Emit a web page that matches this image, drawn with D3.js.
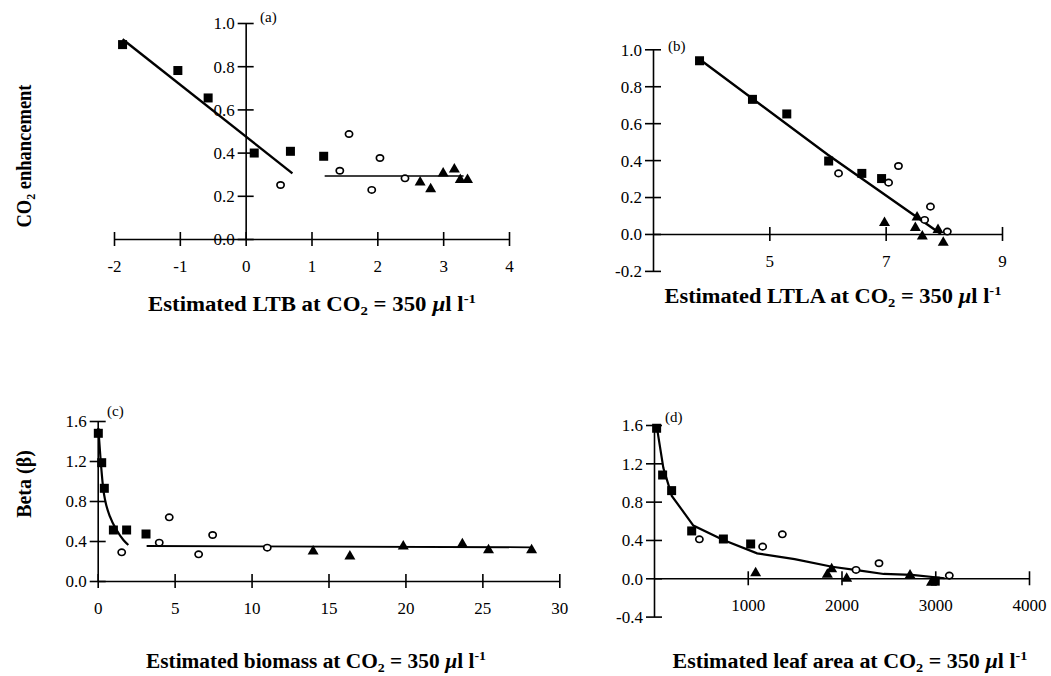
<!DOCTYPE html>
<html>
<head>
<meta charset="utf-8">
<script src="https://cdn.jsdelivr.net/npm/d3@7"></script>
<style>
    body { margin: 0; background: #fff; }
    svg text { font-family: "Liberation Serif", "Times New Roman", serif; }
    .domain, .tick line { stroke: #000; stroke-width: 1.6; }
    .title { font-size: 20px; font-weight: bold; }
    .tag { font-size: 15px; }
</style>
</head>
<body>
<div id="chart"></div>
<script>
// (a) CO2 enhancement vs estimated LTB
var ltbSquares = [[-1.87, 0.90], [-1.03, 0.78], [-0.57, 0.653], [0.13, 0.398], [0.68, 0.406], [1.185, 0.383]];
var ltbCircles = [[0.53, 0.25], [1.43, 0.316], [1.57, 0.486], [1.915, 0.227], [2.04, 0.375], [2.42, 0.281]];
var ltbTriangles = [[2.65, 0.268], [2.81, 0.237], [3.0, 0.31], [3.17, 0.329], [3.26, 0.28], [3.37, 0.28]];
var ltbFitSteep = [[-1.87, 0.925], [0.71, 0.304]];
var ltbFitFlat = [[1.2, 0.292], [3.31, 0.292]];

// (b) CO2 enhancement vs estimated LTLA
var ltlaSquares = [[3.80, 0.938], [4.71, 0.729], [5.30, 0.65], [6.02, 0.395], [6.59, 0.328], [6.93, 0.30]];
var ltlaCircles = [[6.19, 0.328], [7.05, 0.278], [7.22, 0.368], [7.77, 0.148], [7.67, 0.076], [8.06, 0.013]];
var ltlaTriangles = [[6.98, 0.067], [7.51, 0.04], [7.54, 0.097], [7.63, -0.005], [7.90, 0.03], [7.99, -0.04]];
var ltlaFit = [[3.80, 0.946], [6.0, 0.43], [7.95, 0.0]];

// (c) beta vs estimated biomass
var bioSquares = [[0.04, 1.477], [0.26, 1.183], [0.43, 0.927], [1.02, 0.51], [1.88, 0.51], [3.14, 0.47]];
var bioCircles = [[1.56, 0.287], [4.0, 0.383], [4.65, 0.637], [6.56, 0.267], [7.47, 0.46], [11.02, 0.333]];
var bioTriangles = [[14.0, 0.31], [16.39, 0.26], [19.86, 0.36], [23.7, 0.383], [25.4, 0.323], [28.2, 0.323]];
var bioFitCurve = [[0.04, 1.53], [0.19, 1.21], [0.37, 0.91], [0.48, 0.81], [0.80, 0.643], [1.23, 0.51], [1.67, 0.41], [1.99, 0.36]];
var bioFitFlat = [[3.18, 0.35], [28.2, 0.337]];

// (d) beta vs estimated leaf area
var leafSquares = [[28, 1.566], [92, 1.078], [188, 0.915], [402, 0.494], [740, 0.41], [1031, 0.358], [3000, -0.03]];
var leafCircles = [[484, 0.407], [1159, 0.33], [1369, 0.459], [2155, 0.087], [2400, 0.157], [3150, 0.028]];
var leafTriangles = [[1084, 0.069], [1849, 0.052], [1895, 0.11], [2055, 0.01], [2731, 0.045], [2960, -0.03]];
var leafFit = [[30, 1.58], [100, 1.15], [190, 0.86], [420, 0.55], [740, 0.40], [1100, 0.26], [1500, 0.20],
               [1900, 0.12], [2200, 0.08], [2450, 0.045], [2750, 0.035], [3100, 0.0]];

var ltbXTicks = [-2, -1, 0, 1, 2, 3, 4];
var ltbYTicks = [0, 0.2, 0.4, 0.6, 0.8, 1.0];
var ltlaXTicks = [5, 7, 9];
var ltlaYTicks = [-0.2, 0, 0.2, 0.4, 0.6, 0.8, 1.0];
var bioXTicks = [0, 5, 10, 15, 20, 25, 30];
var bioYTicks = [0, 0.4, 0.8, 1.2, 1.6];
var leafXTicks = [1000, 2000, 3000, 4000];
var leafYTicks = [-0.4, 0, 0.4, 0.8, 1.2, 1.6];

var serif = '"Liberation Serif", "Times New Roman", serif';

var svg = d3.select('#chart').append('svg')
    .attr('width', 1051)
    .attr('height', 676);

function drawPanel(p) {
    var x = d3.scaleLinear().domain(p.xDomain).range(p.xRange);
    var y = d3.scaleLinear().domain(p.yDomain).range(p.yRange);
    var g = svg.append('g');

    // axes cross at the origin of the panel
    var xAxis = g.append('g')
        .attr('transform', `translate(0,${y(0)})`)
        .call(d3.axisBottom(x).tickValues(p.xTicks).tickSizeOuter(0).tickSizeInner(0)
            .tickFormat(d => String(d)));
    xAxis.selectAll('.tick line').attr('y1', -7).attr('y2', 7);
    xAxis.selectAll('.tick text').attr('y', 33).attr('dy', 0);

    var yAxis = g.append('g')
        .attr('transform', `translate(${x(p.xDomain[0] < 0 ? 0 : p.xDomain[0])},0)`)
        .call(d3.axisLeft(y).tickValues(p.yTicks).tickSizeOuter(0).tickSizeInner(0)
            .tickFormat(d3.format('.1f')));
    yAxis.selectAll('.tick line').attr('x1', -8).attr('x2', 8);
    yAxis.selectAll('.tick text').attr('x', -11).attr('dy', '0.35em')
        .text(d => d3.format('.1f')(d).replace('\u2212', '-'));

    [xAxis, yAxis].forEach(a => {
        a.attr('font-family', serif).attr('font-size', 17);
        a.selectAll('.tick text')
            .style('font-family', serif)
            .style('font-size', '17px')
            .attr('fill', '#000');
    });
    g.selectAll('.domain').attr('fill', 'none');

    var line = d3.line().x(d => x(d[0])).y(d => y(d[1]));
    p.fits.forEach(f => {
        g.append('path')
            .datum(f.data)
            .attr('d', line.curve(f.curve || d3.curveLinear))
            .attr('fill', 'none')
            .attr('stroke', '#000')
            .attr('stroke-width', f.width);
    });

    g.selectAll('.sq').data(p.squares).enter().append('rect')
        .attr('x', d => x(d[0]) - 4.5)
        .attr('y', d => y(d[1]) - 4.5)
        .attr('width', 9).attr('height', 9)
        .attr('fill', '#000');

    g.selectAll('.ci').data(p.circles).enter().append('ellipse')
        .attr('cx', d => x(d[0]))
        .attr('cy', d => y(d[1]))
        .attr('rx', 3.6).attr('ry', 3.2)
        .attr('fill', '#fff')
        .attr('stroke', '#000')
        .attr('stroke-width', 1.7);

    g.selectAll('.tr').data(p.triangles).enter().append('path')
        .attr('d', d => {
            var cx = x(d[0]), cy = y(d[1]);
            return `M${cx - 5.5},${cy + 4.5}L${cx + 5.5},${cy + 4.5}L${cx},${cy - 5}Z`;
        })
        .attr('fill', '#000');

    g.append('text').attr('class', 'tag')
        .attr('x', p.tag[0]).attr('y', p.tag[1])
        .text(p.tag[2]);

    // axis title with sub/superscripts, stretched to the printed width
    var t = g.append('text').attr('class', 'title')
        .attr('x', p.title[0]).attr('y', p.title[1])
        .attr('text-anchor', 'middle')
        .attr('textLength', p.title[3])
        .attr('lengthAdjust', 'spacingAndGlyphs');
    t.append('tspan').text(p.title[2] + ' at CO');
    t.append('tspan').attr('font-size', '13px').attr('dy', 4).text('2');
    t.append('tspan').attr('dy', -4).text(' = 350 ');
    t.append('tspan').attr('font-style', 'italic').text('\u00b5');
    t.append('tspan').text('l l');
    t.append('tspan').attr('font-size', '13px').attr('dy', -8).text('-1');
}

drawPanel({
    xDomain: [-2, 4], xRange: [114, 509],
    yDomain: [0, 1], yRange: [239, 23],
    xTicks: ltbXTicks, yTicks: ltbYTicks,
    squares: ltbSquares, circles: ltbCircles, triangles: ltbTriangles,
    fits: [{ data: ltbFitSteep, width: 2.4 }, { data: ltbFitFlat, width: 1.6 }],
    tag: [260, 22, '(a)'],
    title: [312, 311, 'Estimated LTB', 328]
});

drawPanel({
    xDomain: [3, 9], xRange: [653, 1002],
    yDomain: [-0.2, 1.0], yRange: [270.9, 49.3],
    xTicks: ltlaXTicks, yTicks: ltlaYTicks,
    squares: ltlaSquares, circles: ltlaCircles, triangles: ltlaTriangles,
    fits: [{ data: ltlaFit, width: 2.4 }],
    tag: [668, 51, '(b)'],
    title: [833, 303, 'Estimated LTLA', 337]
});

drawPanel({
    xDomain: [0, 30], xRange: [97.7, 559.3],
    yDomain: [0, 1.6], yRange: [581, 421],
    xTicks: bioXTicks, yTicks: bioYTicks,
    squares: bioSquares, circles: bioCircles, triangles: bioTriangles,
    fits: [{ data: bioFitCurve, width: 2.2, curve: d3.curveMonotoneX }, { data: bioFitFlat, width: 1.8 }],
    tag: [107, 416, '(c)'],
    title: [316, 668, 'Estimated biomass', 340]
});

drawPanel({
    xDomain: [0, 4000], xRange: [654, 1029],
    yDomain: [-0.4, 1.6], yRange: [616.6, 425],
    xTicks: leafXTicks, yTicks: leafYTicks,
    squares: leafSquares, circles: leafCircles, triangles: leafTriangles,
    fits: [{ data: leafFit, width: 2.2 }],
    tag: [665, 422, '(d)'],
    title: [850, 668, 'Estimated leaf area', 355]
});

// rotated y titles
var yt1 = svg.append('text').attr('class', 'title')
    .attr('transform', 'translate(31,156) rotate(-90)')
    .attr('text-anchor', 'middle')
    .attr('textLength', 143)
    .attr('lengthAdjust', 'spacingAndGlyphs');
yt1.append('tspan').text('CO');
yt1.append('tspan').attr('font-size', '13px').attr('dy', 4).text('2');
yt1.append('tspan').attr('dy', -4).text(' enhancement');

svg.append('text').attr('class', 'title')
    .attr('transform', 'translate(31,484) rotate(-90)')
    .attr('text-anchor', 'middle')
    .text('Beta (\u03b2)');
</script>
</body>
</html>
